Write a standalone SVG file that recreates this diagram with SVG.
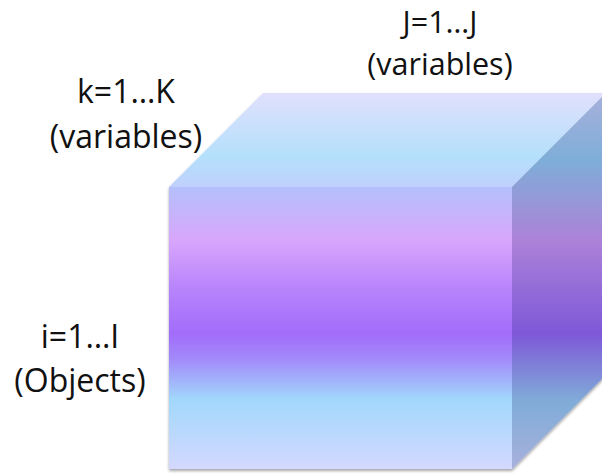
<svg xmlns="http://www.w3.org/2000/svg" width="602" height="474" viewBox="0 0 602 474">
<style>
text{font-family:"Open Sans","Liberation Sans",sans-serif;font-size:32px;fill:#111;text-anchor:middle}
#label-j text{font-size:30.5px}
</style>
<defs>
<linearGradient id="gFront" gradientUnits="userSpaceOnUse" x1="0" y1="187" x2="0" y2="469">
<stop offset="0" stop-color="#b4c0fc"/>
<stop offset="0.19" stop-color="#d8a6fc"/>
<stop offset="0.36" stop-color="#b884fc"/>
<stop offset="0.52" stop-color="#a26cfa"/>
<stop offset="0.61" stop-color="#a28afa"/>
<stop offset="0.755" stop-color="#a2d8fc"/>
<stop offset="1" stop-color="#d4d8fe"/>
</linearGradient>
<linearGradient id="gTop" gradientUnits="userSpaceOnUse" x1="0" y1="93" x2="0" y2="187">
<stop offset="0" stop-color="#e0e0fc"/>
<stop offset="0.68" stop-color="#b4e0fc"/>
<stop offset="1" stop-color="#c0d0fc"/>
</linearGradient>
<linearGradient id="gRight" gradientUnits="userSpaceOnUse" x1="0" y1="93" x2="0" y2="469">
<stop offset="0" stop-color="#a8b0dc"/>
<stop offset="0.178" stop-color="#7eaed8"/>
<stop offset="0.39" stop-color="#ac82d8"/>
<stop offset="0.64" stop-color="#7e58d8"/>
<stop offset="0.82" stop-color="#80acd8"/>
<stop offset="1" stop-color="#a8b0dc"/>
</linearGradient>
<filter id="sh" x="-10%" y="-10%" width="120%" height="120%">
<feDropShadow dx="0" dy="2" stdDeviation="1.5" flood-color="#000" flood-opacity="0.35"/>
</filter>
</defs>
<g id="cube" filter="url(#sh)">
<polygon points="169,187 263,93 606,93 512,187" fill="url(#gTop)"/>
<polygon points="512,187 606,93 606,375 512,469" fill="url(#gRight)"/>
<rect x="169" y="187" width="343" height="282" fill="url(#gFront)"/>
</g>
<g id="label-j">
<text x="440" y="33">J=1…J</text>
<text x="440" y="75">(variables)</text>
</g>
<g id="label-k">
<text x="126" y="103">k=1…K</text>
<text x="126" y="148">(variables)</text>
</g>
<g id="label-i">
<text x="80" y="348">i=1…I</text>
<text x="80" y="392">(Objects)</text>
</g>
<g id="connectors"/>
</svg>
